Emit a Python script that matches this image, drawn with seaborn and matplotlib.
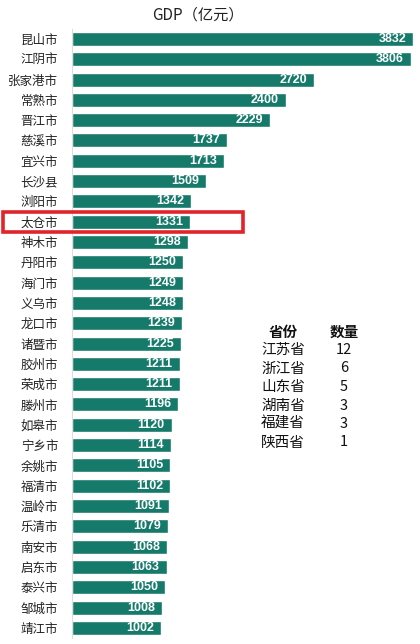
import matplotlib
matplotlib.use("Agg")
import matplotlib.pyplot as plt
import matplotlib.patches as mpatches
import seaborn as sns
import pandas as pd

cities = ["昆山市", "江阴市", "张家港市", "常熟市", "晋江市", "慈溪市", "宜兴市", "长沙县",
          "浏阳市", "太仓市", "神木市", "丹阳市", "海门市", "义乌市", "龙口市", "诸暨市",
          "胶州市", "荣成市", "滕州市", "如皋市", "宁乡市", "余姚市", "福清市", "温岭市",
          "乐清市", "南安市", "启东市", "泰兴市", "邹城市", "靖江市"]
gdp = [3832, 3806, 2720, 2400, 2229, 1737, 1713, 1509, 1342, 1331, 1298, 1250, 1249, 1248,
       1239, 1225, 1211, 1211, 1196, 1120, 1114, 1105, 1102, 1091, 1079, 1068, 1063, 1050,
       1008, 1002]
provinces = ["江苏省", "浙江省", "山东省", "湖南省", "福建省", "陕西省"]
counts = [12, 6, 5, 3, 3, 1]
title = "GDP（亿元）"
highlight = "太仓市"

sns.set_theme(style="white")
plt.rcParams['font.family'] = ['Noto Sans CJK SC', 'DejaVu Sans']

W, H = 420, 644
fig = plt.figure(figsize=(W / 100, H / 100), dpi=100)
fig.patch.set_facecolor("white")

# axes placement in pixels
x0, x1 = 72, 416
top_px, bot_px = 28.8, 638.0
ax = fig.add_axes([x0 / W, 1 - bot_px / H, (x1 - x0) / W, (bot_px - top_px) / H])

df = pd.DataFrame({"city": cities, "gdp": gdp})
sns.barplot(data=df, x="gdp", y="city", orient="h", color="#167A6B", width=0.69,
            saturation=1, ax=ax)

ax.set_xlim(0, 3832 * (x1 - x0) / 341)
ax.set_ylim(len(cities) - 0.5, -0.5)
ax.set_xlabel("")
ax.set_ylabel("")
ax.set_xticks([])
ax.tick_params(axis="y", length=0, pad=10, labelsize=9, colors="#222222")
for s in ["top", "right", "bottom"]:
    ax.spines[s].set_visible(False)
ax.spines["left"].set_color("#dddddd")
ax.spines["left"].set_linewidth(0.8)

for i, v in enumerate(gdp):
    ax.annotate(str(v), xy=(v, i), xytext=(-5, 0), textcoords="offset points",
                ha="right", va="center", color="white", fontsize=9, fontweight="bold",
                family=["Liberation Sans", "DejaVu Sans"])

fig.text(198 / W, 1 - 15 / H, title, ha="center", va="center", fontsize=11, color="#222222")

# province table
fig.text(283 / W, 1 - 332 / H, "省份", ha="center", va="center", fontsize=10.5,
         fontweight="bold", color="#111111")
fig.text(344 / W, 1 - 332 / H, "数量", ha="center", va="center", fontsize=10.5,
         fontweight="bold", color="#111111")
for k, (p, c) in enumerate(zip(provinces, counts)):
    yy = 350 + k * 18.5
    fig.text(283 / W, 1 - yy / H, p, ha="center", va="center", fontsize=10.5, color="#111111")
    fig.text(344 / W, 1 - yy / H, str(c), ha="center", va="center", fontsize=10.5, color="#111111")

# red highlight box
rect = mpatches.Rectangle((3 / W, 1 - 232 / H), 240 / W, 20 / H, transform=fig.transFigure,
                          fill=False, edgecolor="#e0242b", linewidth=2.6, clip_on=False)
fig.add_artist(rect)

fig.savefig("out.png", dpi=100, facecolor="white")
